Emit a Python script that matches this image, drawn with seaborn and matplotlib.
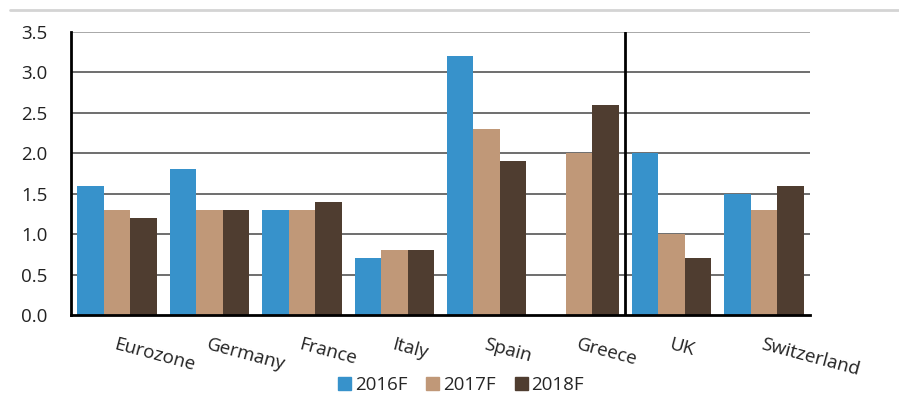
import matplotlib
matplotlib.use("Agg")
import matplotlib.pyplot as plt
import seaborn as sns
import pandas as pd
import numpy as np
from matplotlib.lines import Line2D

categories = ["Eurozone", "Germany", "France", "Italy", "Spain", "Greece", "UK", "Switzerland"]
series = ["2016F", "2017F", "2018F"]
v2016 = [1.6, 1.8, 1.3, 0.7, 3.2, np.nan, 2.0, 1.5]
v2017 = [1.3, 1.3, 1.3, 0.8, 2.3, 2.0, 1.0, 1.3]
v2018 = [1.2, 1.3, 1.4, 0.8, 1.9, 2.6, 0.7, 1.6]
yticks = [0.0, 0.5, 1.0, 1.5, 2.0, 2.5, 3.0, 3.5]
colors = ["#3792CB", "#C09878", "#4F3D30"]

rows = []
for s, vals in zip(series, [v2016, v2017, v2018]):
    for c, v in zip(categories, vals):
        rows.append({"country": c, "year": s, "value": v})
df = pd.DataFrame(rows)

sns.set_style("white")
plt.rcParams["font.family"] = ["Open Sans", "DejaVu Sans"]

fig = plt.figure(figsize=(8.99, 3.99), dpi=100)
ax = fig.add_axes([71/899, 1-315/399, (810-71)/899, (315-32)/399])

sns.barplot(data=df, x="country", y="value", hue="year", order=categories,
            hue_order=series, palette=colors, width=0.86, gap=0, ax=ax,
            linewidth=0, saturation=1, legend=False)

fs = 13.5
ax.set_ylim(0, 3.5)
ax.set_xlim(-0.5, len(categories) - 0.5)
ax.set_yticks(yticks)
ax.set_yticklabels([f"{t:.1f}" for t in yticks], fontsize=fs, color="#222222")
ax.set_xlabel("")
ax.set_ylabel("")
for t in yticks[1:]:
    ax.axhline(t, color="#555555" if t < 3.5 else "#999999", lw=1.2, zorder=0)
ax.set_axisbelow(True)
ax.tick_params(axis="y", length=0, pad=17)
ax.tick_params(axis="x", length=0, pad=15)
ax.set_xticks(range(len(categories)))
ax.set_xticklabels(categories, rotation=-15, ha="left", rotation_mode="anchor",
                   fontsize=fs, color="#222222")
for sp in ["top", "right"]:
    ax.spines[sp].set_visible(False)
ax.spines["left"].set_color("black")
ax.spines["left"].set_linewidth(2)
ax.spines["bottom"].set_color("black")
ax.spines["bottom"].set_linewidth(2)
ax.axvline(5.5, color="black", lw=2, zorder=5)

fig.add_artist(Line2D([10/899, 1], [1-10/399, 1-10/399], color="#d4d4d4", lw=2))

handles = [plt.Rectangle((0, 0), 1, 1, color=c) for c in colors]
fig.legend(handles, series, loc="center", bbox_to_anchor=(0.513, 1-385/399), ncol=3,
           frameon=False, fontsize=fs, handlelength=0.7, handleheight=0.7,
           handletextpad=0.2, columnspacing=1.0)

fig.savefig("out.png", dpi=100)
